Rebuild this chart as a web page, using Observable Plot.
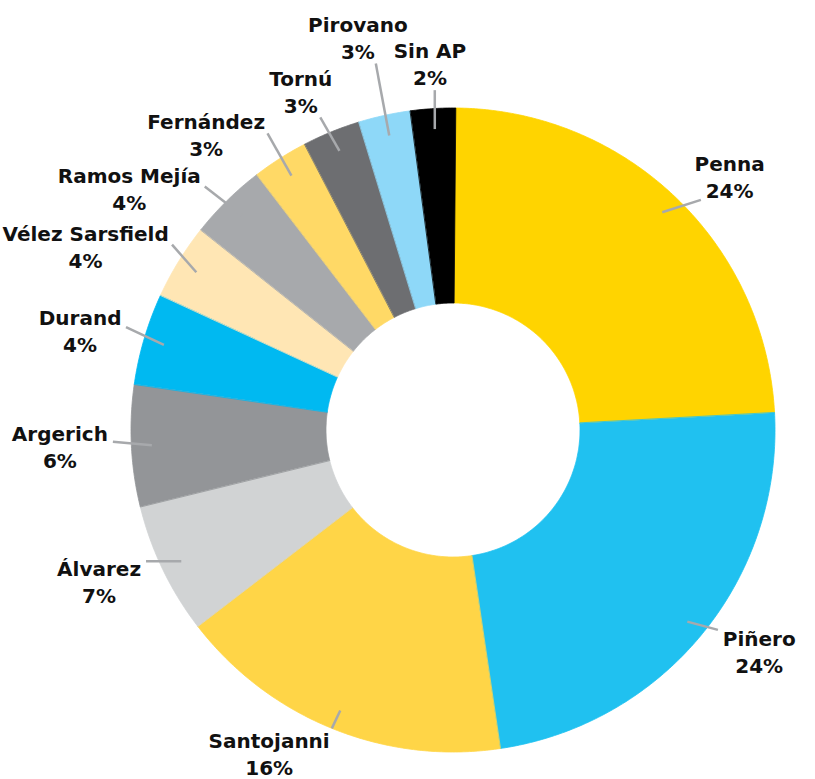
<!DOCTYPE html>
<html>
<head>
<meta charset="utf-8">
<script src="https://cdn.jsdelivr.net/npm/d3@7"></script>
<script src="https://cdn.jsdelivr.net/npm/@observablehq/plot@0.6"></script>
<style>
  html, body { margin: 0; padding: 0; background: #fff; }
  #chart { width: 815px; height: 779px; }
</style>
</head>
<body>
<div id="chart"></div>
<script>
// ---- data ----
const hospitals = ["Penna", "Piñero", "Santojanni", "Álvarez", "Argerich", "Durand",
  "Vélez Sarsfield", "Ramos Mejía", "Fernández", "Tornú", "Pirovano", "Sin AP"];
const shares = [24.0, 23.5, 16.9, 6.6, 6.1, 4.6, 3.8, 3.9, 2.8, 2.9, 2.6, 2.25];
const percentLabels = ["24%", "24%", "16%", "7%", "6%", "4%", "4%", "4%", "3%", "3%", "3%", "2%"];
const sliceColors = ["#FFD400", "#20C1F0", "#FFD547", "#D1D3D4", "#939598", "#00B9F1",
  "#FFE6B4", "#A7A9AC", "#FFD966", "#6D6E71", "#8ED8F8", "#000000"];

// ---- layout ----
const W = 815, H = 779;
const CX = 453, CY = 430, R_OUT = 322, R_IN = 127, START = 0.5;
const R_LEADER0 = 302, R_LABEL = 340, GAP = 6, K_SIDE = 10, K_TOP = 40;
const PAD_PIE = 4, PAD_X = 18, PAD_Y = 9, LEADER_GAP = 5, EXTRA_COST = 0.15;
const FONT_SIZE = 20, CAP = 14.6, LH = 27;
const FONT_FAMILY = "DejaVu Sans";
const RI = R_IN / R_OUT;
const rad = (deg) => deg * Math.PI / 180;

const total = d3.sum(shares);
const cum = [0, ...d3.cumsum(shares)];
const slices = hospitals.map((name, i) => ({
  name,
  a0: START + 360 * cum[i] / total,
  a1: START + 360 * cum[i + 1] / total
}));

// annular sector outlines (geometry sampled along each arc)
const arcPts = [];
for (const s of slices) {
  const n = Math.max(2, Math.ceil((s.a1 - s.a0) / 0.5));
  for (let k = 0; k <= n; k++) {
    const a = rad(s.a0 + (s.a1 - s.a0) * k / n);
    arcPts.push({name: s.name, x1: RI * Math.sin(a), y1: RI * Math.cos(a), x2: Math.sin(a), y2: Math.cos(a)});
  }
}

// ---- label placement (pixel space, then converted to data units) ----
const ctx = document.createElement("canvas").getContext("2d");
ctx.font = `bold ${FONT_SIZE}px '${FONT_FAMILY}'`;
const hh = (CAP + LH) / 2;
const clampv = (v, lo, hi) => Math.min(Math.max(v, lo), hi);

function rectsAt(c, L) {
  const top = c.y - hh;
  return [
    {x0: c.x - L.w1 / 2, x1: c.x + L.w1 / 2, y0: top - L.acc, y1: top + CAP},
    {x0: c.x - L.w2 / 2, x1: c.x + L.w2 / 2, y0: top + LH, y1: top + LH + CAP}
  ];
}
function placeAt(alpha, extra, L) {
  const ux = Math.sin(rad(alpha)), uy = -Math.cos(rad(alpha));
  const r = R_LABEL + extra;
  const ex = CX + r * ux, ey = CY + r * uy;
  const hw = Math.max(L.w1, L.w2) / 2;
  let x, y;
  if (Math.abs(ux) > 0.5) { x = ex + Math.sign(ux) * (hw + GAP); y = ey + uy * K_SIDE; }
  else { x = ex + ux * K_TOP; y = ey + Math.sign(uy) * (hh + GAP); }
  x = clampv(x, hw + 2, W - hw - 2);
  y = clampv(y, hh + 5, H - hh - 5);
  return {x, y};
}
const overlap = (a, b) => a.x0 < b.x1 + PAD_X && b.x0 < a.x1 + PAD_X && a.y0 < b.y1 + PAD_Y && b.y0 < a.y1 + PAD_Y;
function pieHit(r) {
  const nx = clampv(CX, r.x0, r.x1), ny = clampv(CY, r.y0, r.y1);
  return Math.hypot(nx - CX, ny - CY) < R_OUT + PAD_PIE;
}
function leaderFor(L, rs) {
  let near = null;
  for (const r of rs) {
    const nx = clampv(L.sx, r.x0, r.x1), ny = clampv(L.sy, r.y0 + L.acc, r.y1);
    const dd = Math.hypot(nx - L.sx, ny - L.sy);
    if (!near || dd < near.dd) near = {nx, ny, dd};
  }
  return {
    x1: L.sx, y1: L.sy,
    x2: near.nx + (L.sx - near.nx) / near.dd * LEADER_GAP,
    y2: near.ny + (L.sy - near.ny) / near.dd * LEADER_GAP
  };
}
function segHits(seg, r) {
  for (let t = 0; t <= 1; t += 0.05) {
    const x = seg.x1 + (seg.x2 - seg.x1) * t, y = seg.y1 + (seg.y2 - seg.y1) * t;
    if (x > r.x0 - 2 && x < r.x1 + 2 && y > r.y0 - 2 && y < r.y1 + 2) return true;
  }
  return false;
}

const L = slices.map((s, i) => {
  const theta = (s.a0 + s.a1) / 2;
  const o = {
    name: s.name, pct: percentLabels[i], theta,
    w1: ctx.measureText(s.name).width, w2: ctx.measureText(percentLabels[i]).width,
    acc: /[ÁÉÍÓÚáéíóú]/.test(s.name) ? 3 : 0,
    sx: CX + R_LEADER0 * Math.sin(rad(theta)), sy: CY - R_LEADER0 * Math.cos(rad(theta))
  };
  o.c = placeAt(theta, 0, o);
  o.rects = rectsAt(o.c, o);
  o.leader = leaderFor(o, o.rects);
  return o;
});

function costOf(i, d, e) {
  const li = L[i];
  const c = placeAt(li.theta + d, e, li);
  const rs = rectsAt(c, li);
  const lead = leaderFor(li, rs);
  let cost = Math.abs(d) + EXTRA_COST * e;
  for (const r of rs) if (pieHit(r)) cost += 1000;
  L.forEach((lj, j) => {
    if (j === i) return;
    for (const r of rs) for (const q of lj.rects) if (overlap(r, q)) cost += 1000;
    for (const r of rs) if (segHits(lj.leader, r)) cost += 500;
    for (const q of lj.rects) if (segHits(lead, q)) cost += 500;
  });
  return {cost, c, rs, lead};
}

for (let pass = 0; pass < 8; pass++) {
  for (let i = 0; i < L.length; i++) {
    let best = null;
    for (let d = -25; d <= 25; d += 0.5) {
      for (let e = 0; e <= 80; e += 4) {
        const r = costOf(i, d, e);
        if (!best || r.cost < best.cost - 1e-9) best = r;
      }
    }
    L[i].c = best.c; L[i].rects = best.rs; L[i].leader = best.lead;
  }
}

const toX = (px) => (px - CX) / R_OUT;
const toY = (py) => (CY - py) / R_OUT;

const labels = L.map(p => ({
  name: p.name, pct: p.pct,
  x: toX(p.c.x),
  yName: toY(p.c.y - hh + CAP),
  yPct: toY(p.c.y - hh + CAP + LH)
}));
const leaders = L.map(p => ({x1: toX(p.leader.x1), y1: toY(p.leader.y1), x2: toX(p.leader.x2), y2: toY(p.leader.y2)}));

const textStyle = {fontFamily: FONT_FAMILY, fontWeight: "bold", fontSize: FONT_SIZE, fill: "#111111", lineAnchor: "bottom", textAnchor: "middle"};

const chart = Plot.plot({
  width: W,
  height: H,
  margin: 0,
  style: {background: "#ffffff"},
  x: {domain: [toX(0), toX(W)], axis: null},
  y: {domain: [toY(H), toY(0)], axis: null},
  color: {domain: hospitals, range: sliceColors},
  marks: [
    Plot.area(arcPts, {x1: "x1", y1: "y1", x2: "x2", y2: "y2", z: "name", fill: "name", stroke: "name", strokeWidth: 0.8, curve: "linear"}),
    Plot.link(leaders, {x1: "x1", y1: "y1", x2: "x2", y2: "y2", stroke: "#A7A9AC", strokeWidth: 2.5}),
    Plot.text(labels, {x: "x", y: "yName", text: "name", ...textStyle}),
    Plot.text(labels, {x: "x", y: "yPct", text: "pct", ...textStyle})
  ]
});
document.getElementById("chart").appendChild(chart);
</script>
</body>
</html>
